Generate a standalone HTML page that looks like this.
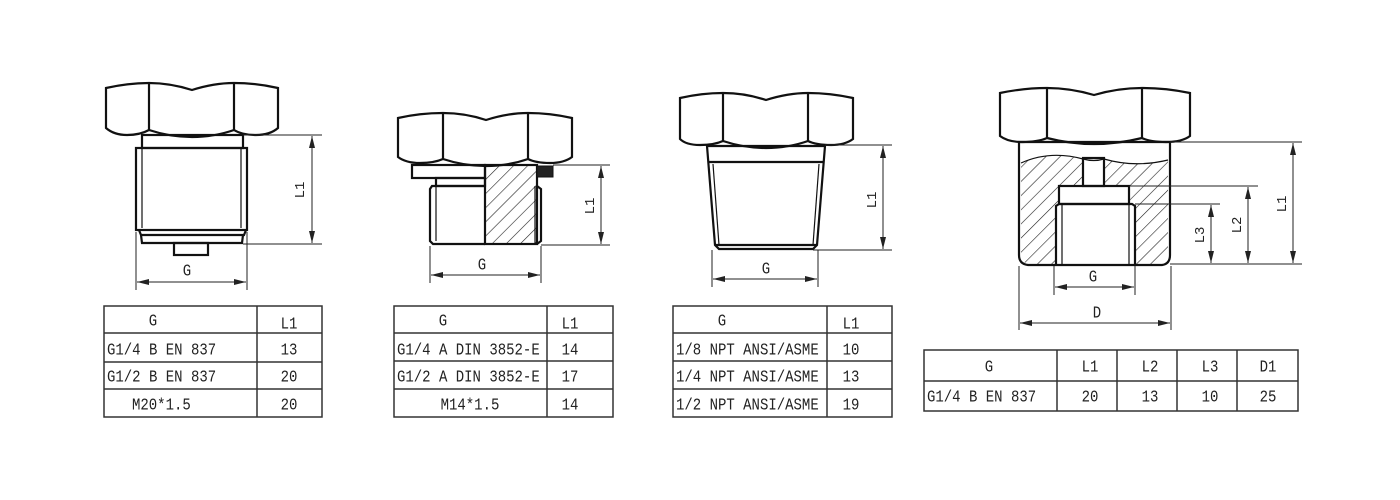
<!DOCTYPE html>
<html><head><meta charset="utf-8"><style>
html,body{margin:0;padding:0;background:#fff;width:1400px;height:500px;overflow:hidden}
text{font-family:"Liberation Mono",monospace;font-size:14px;fill:#222}
.s text{transform-box:fill-box;transform-origin:50% 80%;transform:scaleY(1.2)}
</style></head><body>
<svg width="1400" height="500" viewBox="0 0 1400 500" xmlns="http://www.w3.org/2000/svg">
<defs>
<pattern id="h" patternUnits="userSpaceOnUse" width="10" height="10" patternTransform="rotate(45)">
<line x1="0" y1="0" x2="0" y2="10" stroke="#222" stroke-width="1.2"/>
</pattern>
<marker id="a" viewBox="0 0 12 6" refX="12" refY="3" markerWidth="12" markerHeight="6" orient="auto-start-reverse" markerUnits="userSpaceOnUse">
<path d="M0,0 L12,3 L0,6 z" fill="#222"/>
</marker>
</defs>
<g fill="none" stroke="#111" stroke-width="2.2">
<!-- Drawing 1 hex -->
<path d="M106,88 Q128,83 149,83 Q170,83 192,90 Q214,83 234,83 Q256,83 278,88 L278,128 Q270,135 256,135 Q242,135 234,130 Q214,137 192,137 Q170,137 149,130 Q140,135 127,135 Q114,135 106,128 Z" fill="#fff"/>
<line x1="149" y1="83" x2="149" y2="130"/><line x1="234" y1="83" x2="234" y2="130"/>
<rect x="142" y="135" width="101" height="13"/>
<rect x="136" y="148" width="111" height="82"/>
<line x1="142" y1="148" x2="142" y2="228" stroke-width="1.2"/><line x1="241" y1="148" x2="241" y2="228" stroke-width="1.2"/>
<path d="M139,230 L141,235 L244,235 L246,230"/>
<path d="M141,235 L142,243 L242,243 L243,235"/>
<rect x="174" y="243" width="34" height="12"/>
</g>
<g stroke="#222" stroke-width="1" fill="none">
<line x1="243" y1="135" x2="322" y2="135"/><line x1="243" y1="244" x2="322" y2="244"/>
<line x1="312" y1="136" x2="312" y2="243" marker-start="url(#a)" marker-end="url(#a)"/>
<line x1="136" y1="232" x2="136" y2="290"/><line x1="247" y1="232" x2="247" y2="290"/>
<line x1="137" y1="282" x2="246" y2="282" marker-start="url(#a)" marker-end="url(#a)"/>
</g>
<g class="s"><text x="187" y="276" text-anchor="middle">G</text></g>
<text transform="translate(304,190) rotate(-90)" text-anchor="middle">L1</text>

<!-- Drawing 2 -->
<g fill="none" stroke="#111" stroke-width="2.2">
<path d="M398,118 Q420,113 443,113 Q465,113 486,120 Q508,113 528,113 Q550,113 572,118 L572,157 Q564,163 550,163 Q536,163 528,159 Q508,166 486,166 Q464,166 443,159 Q434,163 420,163 Q406,163 398,157 Z" fill="#fff"/>
<line x1="443" y1="113" x2="443" y2="159"/><line x1="528" y1="113" x2="528" y2="159"/>
<rect x="412" y="165" width="73" height="13"/>
<rect x="436" y="178" width="49" height="8"/>
<rect x="485" y="165" width="52" height="79" fill="url(#h)"/>
<rect x="537" y="166" width="16" height="11" fill="#222" stroke-width="1"/>
<path d="M485,186 L432,186 L430,189 L430,241 L433,244 L485,244"/>
<line x1="436" y1="186" x2="436" y2="241" stroke-width="1.2"/>
<path d="M537,186 L541,189 L541,241 L537,244"/>
<line x1="535" y1="186" x2="535" y2="244" stroke-width="1.2"/>
</g>
<g stroke="#222" stroke-width="1" fill="none">
<line x1="553" y1="165" x2="610" y2="165"/><line x1="541" y1="245" x2="610" y2="245"/>
<line x1="601" y1="166" x2="601" y2="244" marker-start="url(#a)" marker-end="url(#a)"/>
<line x1="430" y1="246" x2="430" y2="283"/><line x1="541" y1="246" x2="541" y2="283"/>
<line x1="431" y1="275" x2="540" y2="275" marker-start="url(#a)" marker-end="url(#a)"/>
</g>
<g class="s"><text x="482" y="270" text-anchor="middle">G</text></g>
<text transform="translate(594,206) rotate(-90)" text-anchor="middle">L1</text>

<!-- Drawing 3 -->
<g fill="none" stroke="#111" stroke-width="2.2">
<path d="M680,98 Q702,93 723,93 Q745,93 766,100 Q788,93 808,93 Q830,93 853,98 L853,139 Q845,145 831,145 Q816,145 808,141 Q788,148 766,148 Q744,148 723,141 Q714,145 700,145 Q686,145 680,139 Z" fill="#fff"/>
<line x1="723" y1="93" x2="723" y2="141"/><line x1="808" y1="93" x2="808" y2="141"/>
<path d="M707,146 L825,146 L817,245 L813,249 L719,249 L715,245 Z"/>
<line x1="709" y1="162" x2="823" y2="162"/>
<line x1="715" y1="245" x2="817" y2="245"/>
<line x1="713" y1="164" x2="719" y2="245" stroke-width="1.2"/><line x1="819" y1="164" x2="813" y2="245" stroke-width="1.2"/>
</g>
<g stroke="#222" stroke-width="1" fill="none">
<line x1="825" y1="145" x2="892" y2="145"/><line x1="813" y1="250" x2="892" y2="250"/>
<line x1="883" y1="146" x2="883" y2="249" marker-start="url(#a)" marker-end="url(#a)"/>
<line x1="712" y1="250" x2="712" y2="287"/><line x1="818" y1="250" x2="818" y2="287"/>
<line x1="713" y1="279" x2="817" y2="279" marker-start="url(#a)" marker-end="url(#a)"/>
</g>
<g class="s"><text x="766" y="274" text-anchor="middle">G</text></g>
<text transform="translate(876,200) rotate(-90)" text-anchor="middle">L1</text>

<!-- Drawing 4 -->
<g fill="none" stroke="#111" stroke-width="2.2">
<path d="M1000,93 Q1024,88 1047,88 Q1070,88 1094,95 Q1118,88 1142,88 Q1166,88 1190,93 L1190,136 Q1182,142 1166,142 Q1150,142 1142,138 Q1118,144 1094,144 Q1070,144 1047,138 Q1038,142 1022,142 Q1008,142 1000,136 Z" fill="#fff"/>
<line x1="1047" y1="88" x2="1047" y2="138"/><line x1="1142" y1="88" x2="1142" y2="138"/>
<path d="M1021,163 Q1050,150 1083,159 L1083,186 L1059,186 L1059,204 L1056,204 L1056,264 L1028,264 Q1021,262 1021,255 Z" fill="url(#h)" stroke="none"/>
<path d="M1104,159 Q1135,168 1168,160 L1168,255 Q1168,262 1162,264 L1135,264 L1135,204 L1129,204 L1129,186 L1104,186 Z" fill="url(#h)" stroke="none"/>
<path d="M1021,163 Q1050,150 1083,159 Q1094,162 1104,159 Q1135,168 1168,160" stroke-width="1.2"/>
<path d="M1019,142 L1019,255 Q1019,264 1028,265 L1162,265 Q1170,264 1170,255 L1170,142 Z"/>
<rect x="1083" y="158" width="21" height="28"/>
<rect x="1059" y="186" width="70" height="18"/>
<path d="M1056,265 L1056,206 L1059,204 L1132,204 L1135,206 L1135,265"/>
<line x1="1062" y1="204" x2="1062" y2="265" stroke-width="1.2"/><line x1="1129" y1="204" x2="1129" y2="265" stroke-width="1.2"/>
</g>
<g stroke="#222" stroke-width="1" fill="none">
<line x1="1170" y1="142" x2="1302" y2="142"/>
<line x1="1129" y1="186" x2="1258" y2="186"/>
<line x1="1135" y1="204" x2="1220" y2="204"/>
<line x1="1170" y1="264" x2="1302" y2="264"/>
<line x1="1293" y1="143" x2="1293" y2="263" marker-start="url(#a)" marker-end="url(#a)"/>
<line x1="1248" y1="187" x2="1248" y2="263" marker-start="url(#a)" marker-end="url(#a)"/>
<line x1="1211" y1="205" x2="1211" y2="263" marker-start="url(#a)" marker-end="url(#a)"/>
<line x1="1054" y1="266" x2="1054" y2="295"/><line x1="1135" y1="266" x2="1135" y2="295"/>
<line x1="1055" y1="287" x2="1134" y2="287" marker-start="url(#a)" marker-end="url(#a)"/>
<line x1="1019" y1="266" x2="1019" y2="330"/><line x1="1171" y1="266" x2="1171" y2="330"/>
<line x1="1020" y1="323" x2="1170" y2="323" marker-start="url(#a)" marker-end="url(#a)"/>
</g>
<g class="s"><text x="1093" y="282" text-anchor="middle">G</text>
<text x="1097" y="318" text-anchor="middle">D</text></g>
<text transform="translate(1286,204) rotate(-90)" text-anchor="middle">L1</text>
<text transform="translate(1241,225) rotate(-90)" text-anchor="middle">L2</text>
<text transform="translate(1204,235) rotate(-90)" text-anchor="middle">L3</text>

<!-- Tables -->
<g fill="none" stroke="#333" stroke-width="1.5">
<rect x="104" y="306" width="218" height="111"/>
<line x1="104" y1="333" x2="322" y2="333"/><line x1="104" y1="362" x2="322" y2="362"/><line x1="104" y1="389" x2="322" y2="389"/>
<line x1="257" y1="306" x2="257" y2="417"/>
<rect x="394" y="306" width="219" height="111"/>
<line x1="394" y1="333" x2="613" y2="333"/><line x1="394" y1="361" x2="613" y2="361"/><line x1="394" y1="389" x2="613" y2="389"/>
<line x1="547" y1="306" x2="547" y2="417"/>
<rect x="673" y="306" width="219" height="111"/>
<line x1="673" y1="333" x2="892" y2="333"/><line x1="673" y1="361" x2="892" y2="361"/><line x1="673" y1="389" x2="892" y2="389"/>
<line x1="827" y1="306" x2="827" y2="417"/>
<rect x="924" y="350" width="374" height="61"/>
<line x1="924" y1="381" x2="1298" y2="381"/>
<line x1="1057" y1="350" x2="1057" y2="411"/><line x1="1117" y1="350" x2="1117" y2="411"/><line x1="1177" y1="350" x2="1177" y2="411"/><line x1="1237" y1="350" x2="1237" y2="411"/>
</g>
<g class="s">
<text x="153" y="326" text-anchor="middle">G</text><text x="289" y="329" text-anchor="middle">L1</text>
<text x="107" y="355">G1/4 B EN 837</text><text x="289" y="355" text-anchor="middle">13</text>
<text x="107" y="382">G1/2 B EN 837</text><text x="289" y="382" text-anchor="middle">20</text>
<text x="132" y="410">M20*1.5</text><text x="289" y="410" text-anchor="middle">20</text>

<text x="443" y="326" text-anchor="middle">G</text><text x="570" y="329" text-anchor="middle">L1</text>
<text x="397" y="355">G1/4 A DIN 3852-E</text><text x="570" y="355" text-anchor="middle">14</text>
<text x="397" y="382">G1/2 A DIN 3852-E</text><text x="570" y="382" text-anchor="middle">17</text>
<text x="470" y="410" text-anchor="middle">M14*1.5</text><text x="570" y="410" text-anchor="middle">14</text>

<text x="722" y="326" text-anchor="middle">G</text><text x="851" y="329" text-anchor="middle">L1</text>
<text x="676" y="355">1/8 NPT ANSI/ASME</text><text x="851" y="355" text-anchor="middle">10</text>
<text x="676" y="382">1/4 NPT ANSI/ASME</text><text x="851" y="382" text-anchor="middle">13</text>
<text x="676" y="410">1/2 NPT ANSI/ASME</text><text x="851" y="410" text-anchor="middle">19</text>

<text x="989" y="372" text-anchor="middle">G</text><text x="1090" y="372" text-anchor="middle">L1</text><text x="1150" y="372" text-anchor="middle">L2</text><text x="1210" y="372" text-anchor="middle">L3</text><text x="1268" y="372" text-anchor="middle">D1</text>
<text x="927" y="402">G1/4 B EN 837</text><text x="1090" y="402" text-anchor="middle">20</text><text x="1150" y="402" text-anchor="middle">13</text><text x="1210" y="402" text-anchor="middle">10</text><text x="1268" y="402" text-anchor="middle">25</text>
</g>
</svg>
</body></html>
